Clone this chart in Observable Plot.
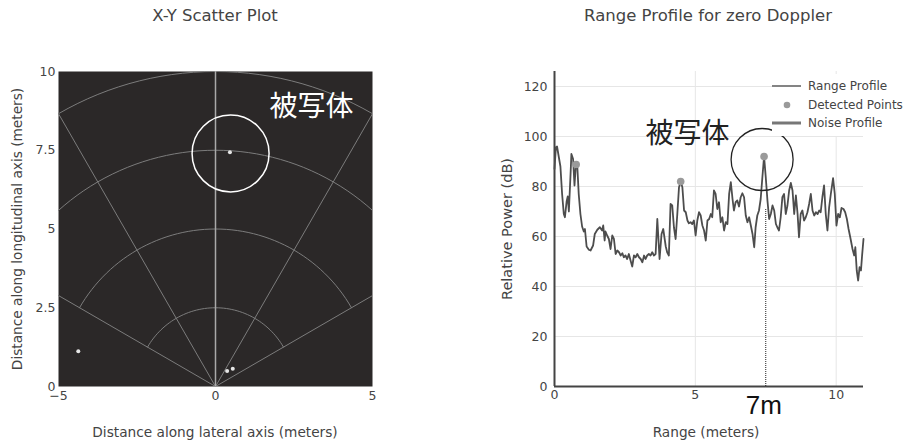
<!DOCTYPE html>
<html><head><meta charset="utf-8">
<script src="https://cdn.jsdelivr.net/npm/d3@7"></script>
<script src="https://cdn.jsdelivr.net/npm/@observablehq/plot@0.6"></script>
<style>
body{margin:0;background:#fff;width:904px;height:447px;position:relative;overflow:hidden;font-family:"DejaVu Sans",Verdana,sans-serif;color:#444}
.abs{position:absolute;white-space:nowrap}
.title{font-size:16.5px;text-align:center;line-height:20px}
.xlab{font-size:13.7px;text-align:center;transform:translate(-50%,-50%)}
.ylab{font-size:13.7px;transform:translate(-50%,-50%) rotate(-90deg)}
#legend{background:#fff;font-size:12px;color:#444}
#legend .row{position:absolute;left:0;height:18px;display:flex;align-items:center}
#legend svg{margin-right:6px}
</style></head><body>
<div id="left" class="abs" style="left:0;top:0"></div>
<div id="right" class="abs" style="left:450px;top:0"></div>
<div class="abs title" style="left:15px;width:400px;top:6px">X-Y Scatter Plot</div>
<div class="abs title" style="left:508px;width:400px;top:6px">Range Profile for zero Doppler</div>
<div class="abs xlab" style="left:215px;top:432px">Distance along lateral axis (meters)</div>
<div class="abs xlab" style="left:706px;top:432px">Range (meters)</div>
<div class="abs ylab" style="left:16.5px;top:228.5px">Distance along longitudinal axis (meters)</div>
<div class="abs ylab" style="left:507px;top:229px;font-size:14.5px">Relative Power (dB)</div>
<div id="legend" class="abs" style="left:772px;top:74px;width:132px;height:62px"></div>
<script>
// ---- X-Y scatter data ----
const scatterX = [-4.37, 0.37, 0.55, 0.46];
const scatterY = [1.12, 0.49, 0.56, 7.44];
const xyTicksX = [-5, 0, 5];
const xyTicksY = [0, 2.5, 5, 7.5, 10];
const gridRadii = [2.5, 5, 7.5, 10];
const gridSpokes = [-60, -30, 30, 60];
const targetLabel = "被写体";

// ---- Range profile data ----
const rangeM = [0.00,0.05,0.09,0.21,0.27,0.33,0.37,0.43,0.47,0.51,0.57,0.60,0.66,0.71,0.76,0.81,0.86,0.92,0.98,1.04,1.08,1.14,1.22,1.28,1.37,1.43,1.52,1.61,1.69,1.73,1.78,1.81,1.87,1.93,1.99,2.05,2.11,2.17,2.23,2.29,2.35,2.41,2.46,2.52,2.58,2.64,2.70,2.76,2.82,2.88,2.94,3.00,3.06,3.12,3.18,3.23,3.29,3.35,3.41,3.47,3.53,3.59,3.65,3.73,3.80,3.86,3.95,4.00,4.06,4.12,4.18,4.24,4.30,4.36,4.42,4.48,4.54,4.60,4.66,4.72,4.77,4.83,4.89,4.95,5.01,5.07,5.13,5.19,5.25,5.31,5.37,5.43,5.49,5.55,5.60,5.66,5.72,5.78,5.84,5.90,5.96,6.02,6.08,6.14,6.20,6.26,6.32,6.37,6.43,6.49,6.55,6.61,6.67,6.73,6.79,6.85,6.91,6.97,7.03,7.09,7.14,7.20,7.26,7.32,7.38,7.44,7.50,7.56,7.62,7.68,7.74,7.80,7.86,7.91,7.97,8.03,8.09,8.15,8.21,8.27,8.33,8.39,8.45,8.51,8.57,8.63,8.68,8.74,8.80,8.86,8.92,8.98,9.04,9.10,9.16,9.22,9.28,9.34,9.40,9.45,9.51,9.57,9.63,9.69,9.75,9.81,9.89,9.95,10.01,10.07,10.13,10.19,10.26,10.32,10.38,10.44,10.50,10.58,10.64,10.68,10.73,10.78,10.83,10.88,10.92,10.97];
const powerDb = [87,95.7,96,88,77,69,67.7,74,76,70,85,93,91,80.4,89,88,77,69,64,62,63,56,54.7,54.4,56.4,61,62.7,63.7,62.4,64.4,58.4,62,60.4,59,55,60.4,59,53,54.4,53.7,52.4,53.3,51.7,52.4,51,53,50.4,48,52.4,51.7,53,51.7,51,49.7,52.4,51,52.4,53,52.4,53.7,52.4,53,67,51,61,63,56,53.7,52.4,73,72.4,63.7,59,69,79.7,82,79.7,70.4,69.7,66.4,65.3,65.7,65,66.4,60.4,66.4,69.7,68.4,64.4,62.4,58.4,66.4,67,69,67.7,78.4,77,71,73.7,65.7,67.7,62.4,65.7,65,77,81.7,75,70.4,73.7,74.4,72,75.7,77.3,75.7,68.4,65.7,67.7,64.4,61,55.7,63.7,68.4,70.4,75,83.7,92,83.7,74.4,67,69,72.4,70.4,65,63.7,62.4,67.7,75.7,77,69,72.4,78.4,81.4,78.4,69,76.4,69,59.7,69,70.4,66.4,67.7,69.7,73,77,70.4,68.4,69.7,69,70.4,69.7,75.7,80.4,69,62.4,71.7,77,83.3,77,64.4,69,67.7,71.4,71,69.7,67,63,59.7,55,52.4,55.7,46.4,42.4,47.7,46.4,52.4,59];
const detectedRange = [0.77, 4.48, 7.44];
const detectedPower = [88.8, 82, 92];
const rangeTicks = [0, 5, 10];
const powerTicks = [0, 20, 40, 60, 80, 100, 120];
const legendLabels = ["Range Profile", "Detected Points", "Noise Profile"];
const targetRange = 7.5;
const targetRangeLabel = "7m";

// ---- build tables ----
const points = scatterX.map((x, i) => ({x, y: scatterY[i]}));
const arcs = [];
for (const r of gridRadii) for (let a = -60; a <= 60; a += 2) {
  const t = a * Math.PI / 180;
  arcs.push({r, x: r * Math.sin(t), y: r * Math.cos(t)});
}
const spokes = gridSpokes.map(a => ({x2: 15 * Math.sin(a * Math.PI / 180), y2: 15 * Math.cos(a * Math.PI / 180)}));
const profile = rangeM.map((x, i) => ({x, y: powerDb[i]}));
const detected = detectedRange.map((x, i) => ({x, y: detectedPower[i]}));

const baseStyle = {fontFamily: "DejaVu Sans, Verdana, sans-serif", fontSize: "12.5px", color: "#444", background: "transparent", overflow: "visible"};

const left = Plot.plot({
  width: 450, height: 447,
  marginLeft: 58, marginRight: 78, marginTop: 71, marginBottom: 61,
  style: baseStyle,
  x: {domain: [-5, 5], ticks: xyTicksX, tickSize: 0, tickPadding: 5, label: null},
  y: {domain: [0, 10], ticks: xyTicksY, tickSize: 0, tickPadding: 3, label: null, tickFormat: d => String(d)},
  marks: [
    Plot.frame({fill: "#2b2828"}),
    Plot.line(arcs, {x: "x", y: "y", z: "r", stroke: "#7c7c7c", strokeWidth: 1, clip: true}),
    Plot.link(spokes, {x1: () => 0, y1: () => 0, x2: "x2", y2: "y2", stroke: "#7c7c7c", strokeWidth: 1, clip: true}),
    Plot.ruleX([0], {stroke: "#a9a9a9", strokeWidth: 1.5}),
    Plot.dot(points, {x: "x", y: "y", r: 2, fill: "#e6e6e6"}),
    Plot.dot([{x: 0.48, y: 7.4}], {x: "x", y: "y", r: 38.5, stroke: "#fff", strokeWidth: 1.5, fill: "none"}),
    Plot.text([targetLabel], {x: () => 3.06, y: () => 8.86, text: d => d, fontSize: 28, fill: "#fff", fontFamily: "Noto Sans CJK JP"})
  ]
});
document.getElementById("left").appendChild(left);

const right = Plot.plot({
  width: 454, height: 447,
  marginLeft: 104, marginRight: 41, marginTop: 71, marginBottom: 61,
  style: baseStyle,
  x: {domain: [0, 10.97], ticks: rangeTicks, tickSize: 0, tickPadding: 4, label: null},
  y: {domain: [0, 126], ticks: powerTicks, tickSize: 0, tickPadding: 7, label: null},
  marks: [
    Plot.ruleY(powerTicks.slice(1), {stroke: "#e6e6e6", strokeWidth: 1}),
    Plot.ruleX(rangeTicks.slice(1), {stroke: "#e6e6e6", strokeWidth: 1}),
    Plot.ruleX([0], {stroke: "#444", strokeWidth: 2}),
    Plot.ruleY([0], {stroke: "#444", strokeWidth: 2}),
    Plot.ruleX([targetRange], {y1: 0, y2: 70.8, stroke: "#222", strokeWidth: 1, strokeDasharray: "1,1"}),
    Plot.line(profile, {x: "x", y: "y", stroke: "#4d4d4d", strokeWidth: 1.8}),
    Plot.dot(detected, {x: "x", y: "y", r: 3.8, fill: "#9a9a9a"}),
    Plot.dot([{x: 7.37, y: 90.8}], {x: "x", y: "y", r: 31, stroke: "#222", strokeWidth: 1.3, fill: "none"}),
    Plot.text([targetLabel], {x: () => 4.72, y: () => 101, text: d => d, fontSize: 28, fill: "#222", fontFamily: "Noto Sans CJK JP"}),
    Plot.text([targetRangeLabel], {x: () => 7.43, y: () => -7.6, text: d => d, fontSize: 26, fill: "#111", fontFamily: "Liberation Sans"})
  ]
});
document.getElementById("right").appendChild(right);

// ---- legend ----
const lg = document.getElementById("legend");
const swatches = [
  '<svg width="30" height="10"><line x1="0" y1="5" x2="29" y2="5" stroke="#505050" stroke-width="1.4"/></svg>',
  '<svg width="30" height="10"><circle cx="15" cy="5" r="3.3" fill="#9a9a9a"/></svg>',
  '<svg width="30" height="10"><line x1="0" y1="5" x2="29" y2="5" stroke="#777" stroke-width="3"/></svg>'
];
legendLabels.forEach((t, i) => {
  const row = document.createElement("div");
  row.className = "row";
  row.style.top = (3 + i * 18.5) + "px";
  row.innerHTML = swatches[i] + "<span>" + t + "</span>";
  lg.appendChild(row);
});
</script>
</body></html>
